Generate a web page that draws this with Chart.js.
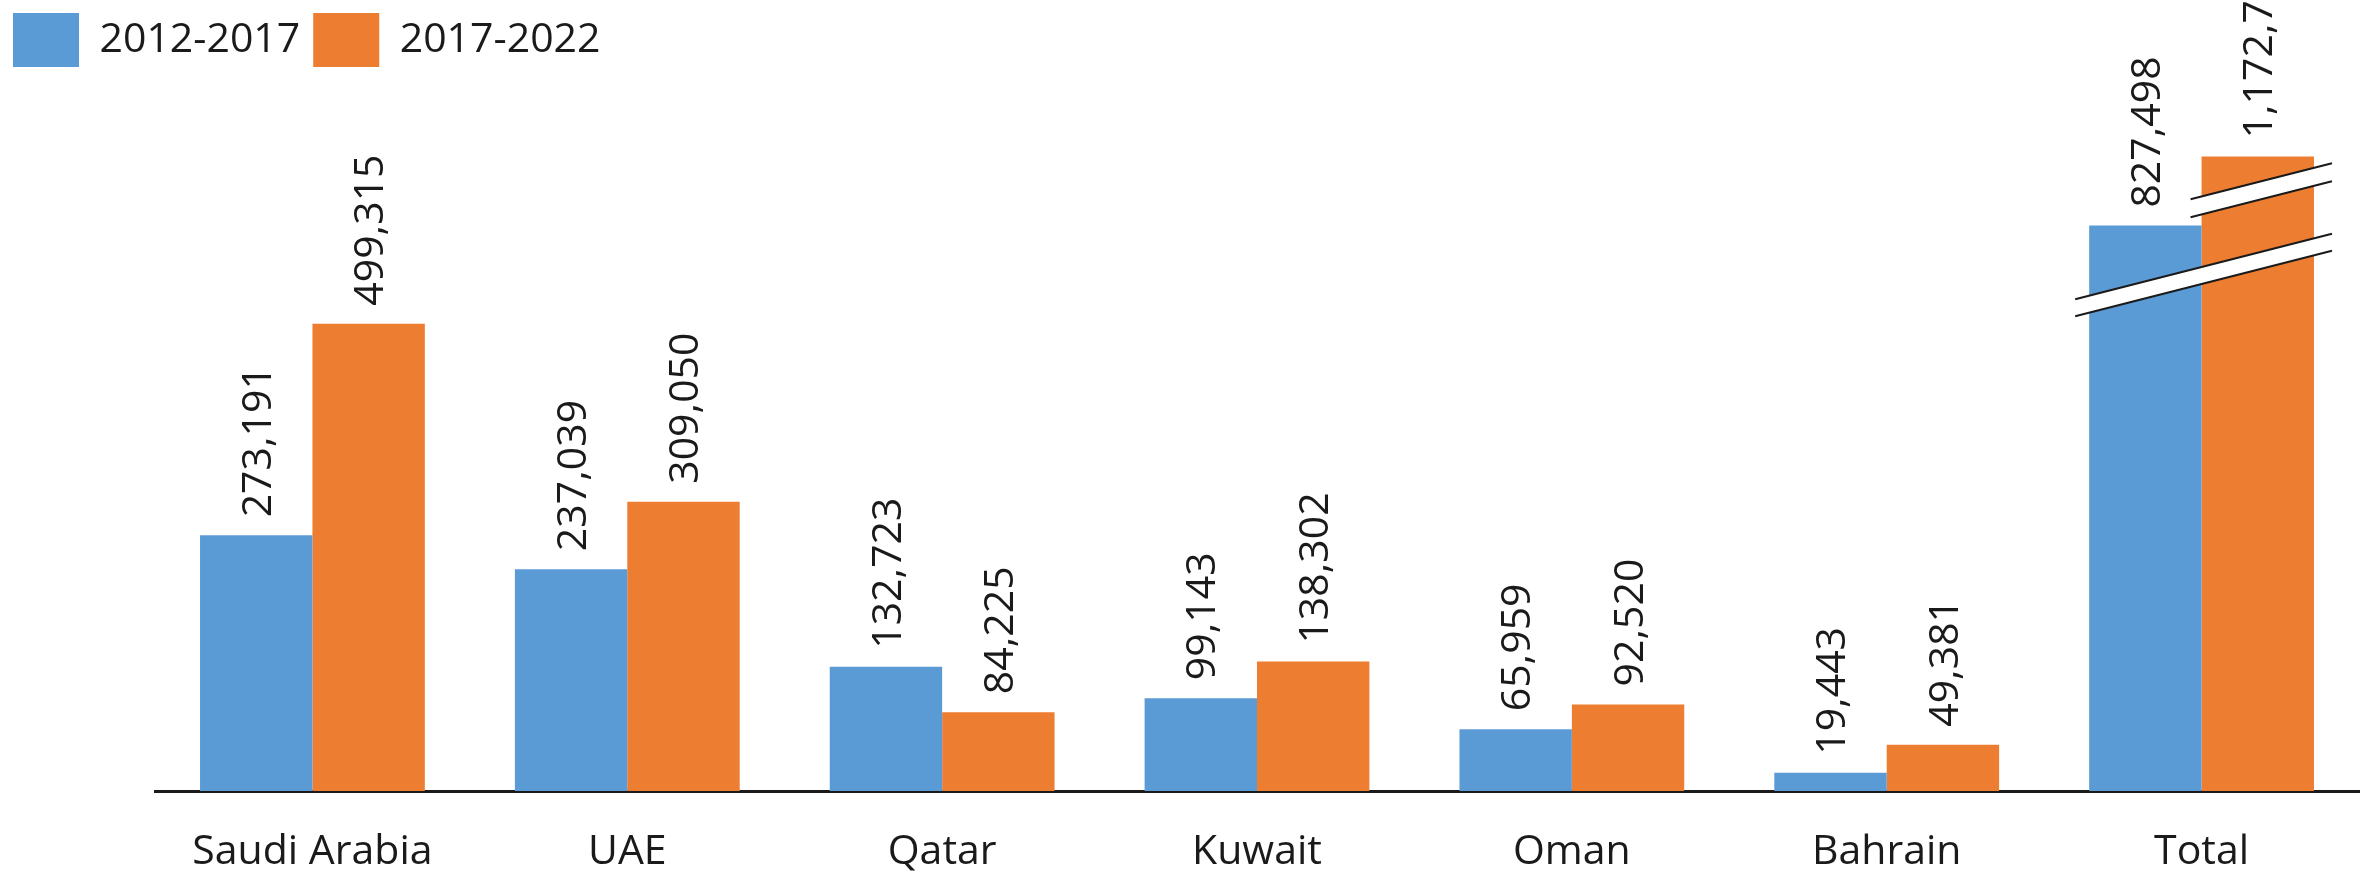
<!DOCTYPE html>
<html>
<head>
<meta charset="utf-8">
<script src="https://cdn.jsdelivr.net/npm/chart.js@4.4.1/dist/chart.umd.min.js"></script>
<style>
  html, body { margin: 0; padding: 0; background: #ffffff; }
  #wrap { width: 2361px; height: 874px; position: relative; }
</style>
</head>
<body>
<div id="wrap"><canvas id="gccChart"></canvas></div>
<script>
// Data
const categories = ["Saudi Arabia", "UAE", "Qatar", "Kuwait", "Oman", "Bahrain", "Total"];
const seriesNames = ["2012-2017", "2017-2022"];
const values2012 = [273191, 237039, 132723, 99143, 65959, 19443, 827498];
const values2017 = [499315, 309050, 84225, 138302, 92520, 49381, 1172793];
const totalShown = [604200, 678100];

const blue = "#5B9BD5";
const orange = "#ED7D31";

function shownValues(vals, i) {
  const out = vals.slice();
  out[out.length - 1] = totalShown[i];
  return out;
}

// Rotated value labels above each bar
const valueLabels = {
  id: "valueLabels",
  afterDatasetsDraw(chart) {
    const ctx = chart.ctx;
    const raw = [values2012, values2017];
    ctx.save();
    ctx.font = "41px 'Open Sans', sans-serif";
    ctx.fillStyle = "#1a1a1a";
    ctx.textAlign = "left";
    ctx.textBaseline = "middle";
    chart.data.datasets.forEach((ds, di) => {
      chart.getDatasetMeta(di).data.forEach((bar, i) => {
        ctx.save();
        ctx.translate(bar.x + 3, bar.y - 18);
        ctx.rotate(-Math.PI / 2);
        ctx.fillText(raw[di][i].toLocaleString("en-US"), 0, 0);
        ctx.restore();
      });
    });
    ctx.restore();
  },
};

// Axis break marks on the Total bars
function drawBreak(ctx, x1, y1, x2, slope, gap) {
  const y2 = y1 - (x2 - x1) * slope;
  ctx.beginPath();
  ctx.moveTo(x1, y1);
  ctx.lineTo(x2, y2);
  ctx.lineTo(x2, y2 + gap);
  ctx.lineTo(x1, y1 + gap);
  ctx.closePath();
  ctx.fillStyle = "#ffffff";
  ctx.fill();
  ctx.strokeStyle = "#1a1a1a";
  ctx.lineWidth = 2;
  ctx.beginPath();
  ctx.moveTo(x1, y1);
  ctx.lineTo(x2, y2);
  ctx.moveTo(x1, y1 + gap);
  ctx.lineTo(x2, y2 + gap);
  ctx.stroke();
}

const breakMarks = {
  id: "breakMarks",
  afterDatasetsDraw(chart) {
    const ctx = chart.ctx;
    const last = categories.length - 1;
    const b = chart.getDatasetMeta(0).data[last];
    const o = chart.getDatasetMeta(1).data[last];
    const bLeft = b.x - b.width / 2;
    const oLeft = o.x - o.width / 2;
    const oRight = o.x + o.width / 2;
    const slope = 0.255;
    ctx.save();
    drawBreak(ctx, bLeft - 14, b.y + 70 + 14 * slope, oRight + 18, slope, 17);
    drawBreak(ctx, oLeft - 11, o.y + 40 + 11 * slope, oRight + 18, slope, 18);
    ctx.restore();
  },
};

Chart.defaults.font.family = "'Open Sans', sans-serif";
Chart.defaults.font.size = 41;
Chart.defaults.color = "#1a1a1a";

const ctx = document.getElementById("gccChart").getContext("2d");
new Chart(ctx, {
  type: "bar",
  data: {
    labels: categories,
    datasets: [
      {
        label: seriesNames[0],
        data: shownValues(values2012, 0),
        backgroundColor: blue,
        borderWidth: 0,
        categoryPercentage: 0.714,
        barPercentage: 1.0,
      },
      {
        label: seriesNames[1],
        data: shownValues(values2017, 1),
        backgroundColor: orange,
        borderWidth: 0,
        categoryPercentage: 0.714,
        barPercentage: 1.0,
      },
    ],
  },
  options: {
    responsive: true,
    maintainAspectRatio: false,
    animation: false,
    layout: { padding: { left: 0, right: 2, top: 0, bottom: 0 } },
    plugins: {
      tooltip: { enabled: false },
      legend: {
        display: true,
        position: "top",
        align: "start",
        labels: {
          boxWidth: 66,
          boxHeight: 54,
          padding: 13,
          font: { size: 41 },
          color: "#1a1a1a",
        },
      },
    },
    scales: {
      x: {
        grid: { display: false },
        border: { display: true, color: "#1a1a1a", width: 3 },
        ticks: { padding: 29, font: { size: 41 }, color: "#1a1a1a" },
        afterFit(scale) { scale.height = 83; },
      },
      y: {
        min: 0,
        max: 763000,
        grid: { display: false },
        border: { display: false },
        ticks: { display: false },
        afterFit(scale) { scale.width = 155; },
      },
    },
  },
  plugins: [valueLabels, breakMarks],
});
</script>
</body>
</html>
